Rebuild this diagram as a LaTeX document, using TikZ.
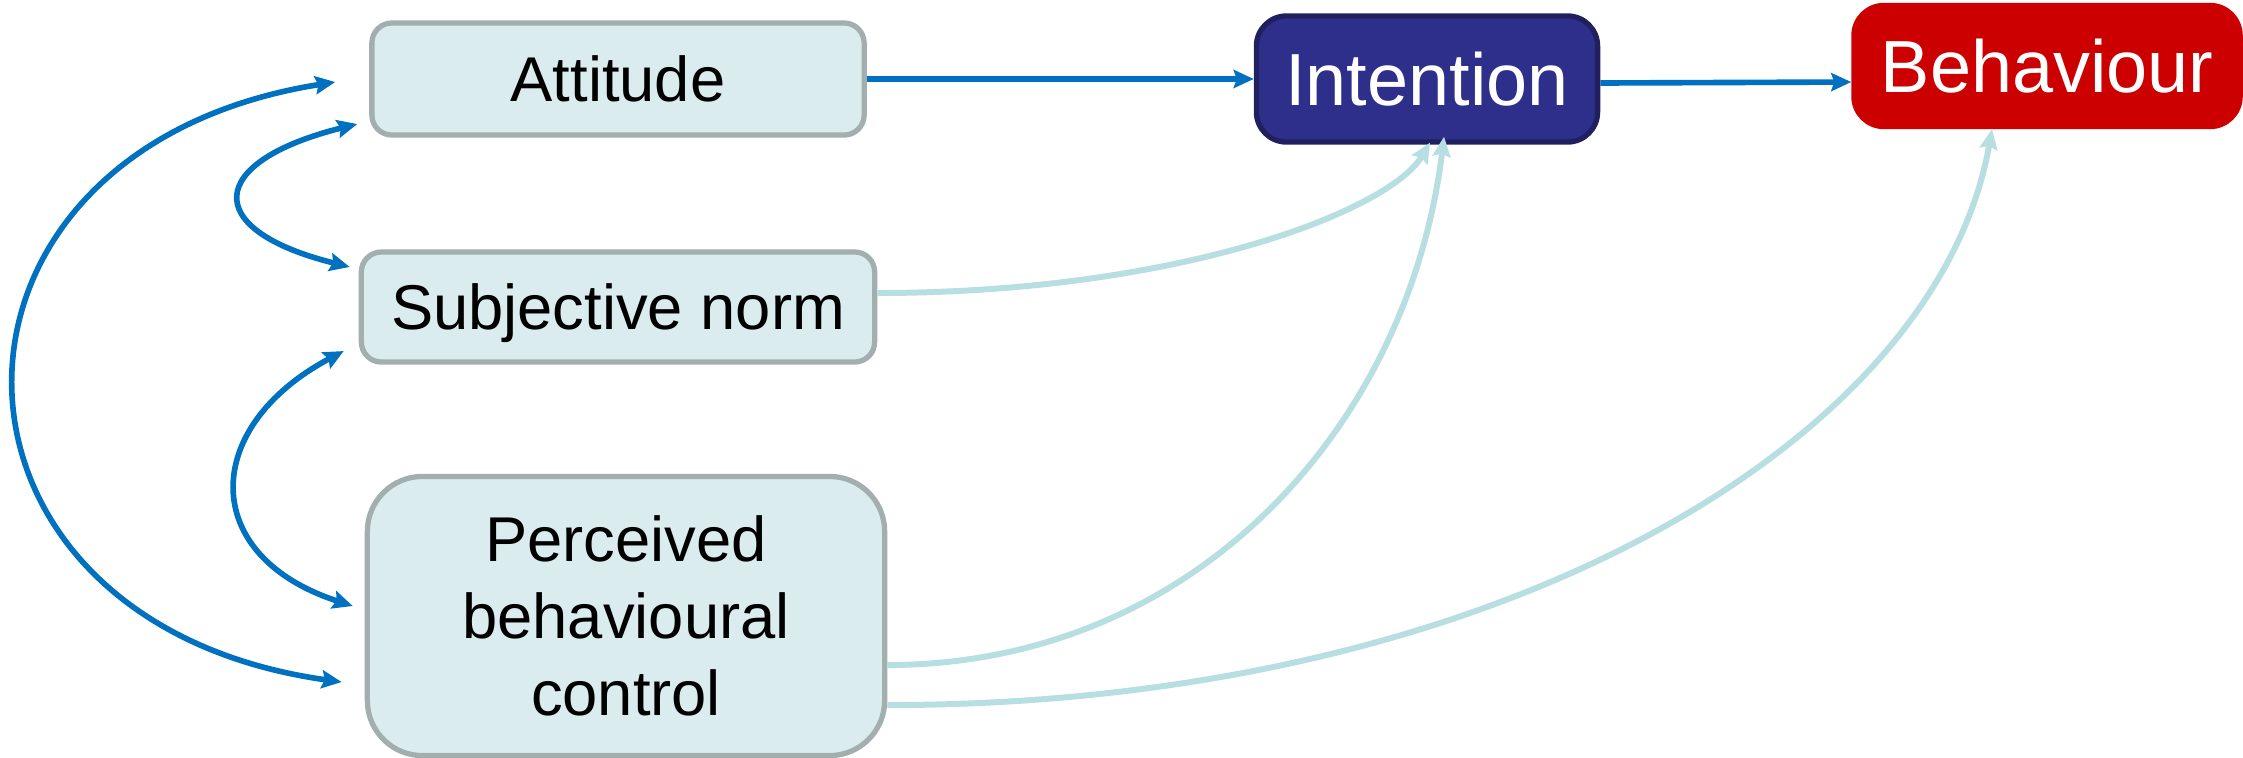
\documentclass[tikz,border=0pt]{standalone}
\usepackage{fontspec}
\setmainfont{Liberation Sans}
\usetikzlibrary{calc,positioning,arrows.meta}
\definecolor{boxfill}{HTML}{DAECEE}
\definecolor{boxline}{HTML}{A3AEAE}
\definecolor{intfill}{HTML}{2E2E8B}
\definecolor{intline}{HTML}{20205F}
\definecolor{behfill}{HTML}{CC0000}
\definecolor{assocblue}{HTML}{0070C0}
\definecolor{effectblue}{HTML}{B7DEE1}

\begin{document}
\begin{tikzpicture}
        [x=0.01cm,y=-0.01cm,
         factor/.style={draw=boxline, fill=boxfill, line width=1.5pt, rounded corners=0.2cm,
           inner sep=0pt, align=center, font=\fontsize{18}{21.9}\selectfont},
         outcome/.style={line width=1.5pt, rounded corners=0.3cm, inner sep=0pt,
           text=white, font=\fontsize{21}{25}\selectfont},
         assoc/.style={draw=assocblue, line width=1.6pt,
           {Stealth[length=0.2cm,width=0.18cm,inset=0.03cm]}-{Stealth[length=0.2cm,width=0.18cm,inset=0.03cm]}},
         flow/.style={draw=assocblue, line width=1.6pt, -{Stealth[length=0.2cm,width=0.18cm,inset=0.03cm]}},
         effect/.style={draw=effectblue, line width=1.7pt, -{Stealth[length=0.2cm,width=0.18cm,inset=0.03cm]}}]
        \useasboundingbox (0,0) rectangle (2243,757);
        \node[factor, minimum width=4.92cm, minimum height=1.12cm] (att) at (618,79) {Attitude};
        \node[factor, minimum width=5.13cm, minimum height=1.10cm, text depth=0pt] (sn) at (618,307) {Subjective norm};
        \node[factor, minimum width=5.17cm, minimum height=2.79cm, rounded corners=0.55cm] (pbc) at (626,616)
          {Perceived\\behavioural\\control};
        \node[outcome, fill=intfill, draw=intline, minimum width=3.41cm, minimum height=1.26cm] (int) at (1427,79) {Intention};
        \node[outcome, fill=behfill, draw=behfill, minimum width=3.86cm, minimum height=1.21cm] (beh) at (2047,66) {Behaviour};
        % ends of the correlation arcs
        \coordinate (a1) at ([xshift=-0.34cm,yshift=-0.03cm]att.west);
        \coordinate (a2) at ([xshift=-0.12cm,yshift=-0.45cm]att.west);
        \coordinate (s1) at ([xshift=-0.09cm,yshift=0.40cm]sn.west);
        \coordinate (s2) at ([xshift=-0.15cm,yshift=-0.44cm]sn.west);
        \coordinate (p1) at ([xshift=-0.12cm,yshift=0.10cm]pbc.west);
        \coordinate (p2) at ([xshift=-0.23cm,yshift=-0.66cm]pbc.west);
        \draw[assoc] (a1) to[out=189,in=172,distance=4.35cm] (p2);
        \draw[assoc] (a2) to[out=194,in=166,distance=1.55cm] (s1);
        \draw[assoc] (s2) to[out=208,in=162,distance=1.62cm] (p1);
        \draw[flow] (att.east) -- (int.west);
        \draw[flow] ([yshift=-0.04cm]int.east) -- ([yshift=-0.16cm]beh.west);
        \draw[effect] ([yshift=0.14cm]sn.east) to[out=0,in=239,out distance=3cm,in distance=0.8cm]
          ([xshift=0.03cm,yshift=0.02cm]int.south);
        \draw[effect] ([yshift=-0.49cm]pbc.east) to[out=0,in=263,out distance=3.07cm,in distance=2.92cm]
          ([xshift=0.17cm,yshift=0.08cm]int.south);
        \draw[effect] ([yshift=-0.89cm]pbc.east) to[out=0,in=260,out distance=6.08cm,in distance=3.17cm]
          ([xshift=-0.55cm]beh.south);
      \end{tikzpicture}
\end{document}
